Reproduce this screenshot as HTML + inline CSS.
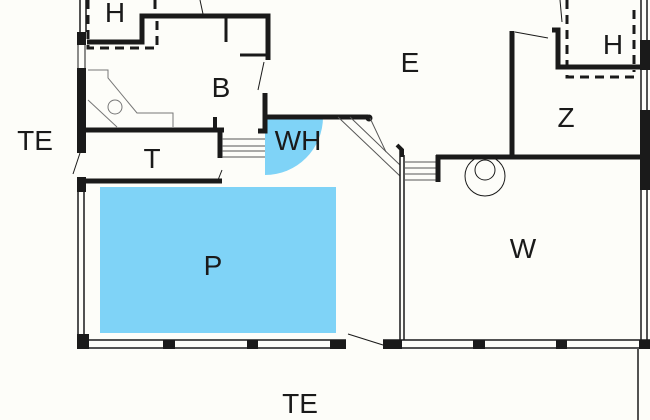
<!DOCTYPE html>
<html><head><meta charset="utf-8"><style>
html,body{margin:0;padding:0;background:#fdfdf9;}
svg{display:block;}
text{font-family:"Liberation Sans",sans-serif;font-size:28px;fill:#1a1a1a;text-anchor:middle;}
</style></head><body>
<svg width="650" height="420" viewBox="0 0 650 420" xmlns="http://www.w3.org/2000/svg">
<rect width="650" height="420" fill="#fdfdf9"/>
<!-- blue areas -->
<rect x="100" y="187" width="236" height="146" fill="#7fd3f7"/>
<path d="M265 117 L323 117 A58 58 0 0 1 265 175 Z" fill="#7fd3f7"/>
<g stroke="#1a1a1a" fill="none">
<!-- left outer wall -->
<line x1="80" y1="0" x2="80" y2="32" stroke-width="1.5"/>
<line x1="86" y1="0" x2="86" y2="32" stroke-width="1.5"/>
<rect x="77" y="32" width="9" height="13" fill="#1a1a1a" stroke="none"/>
<line x1="78" y1="45" x2="78" y2="68" stroke-width="1"/>
<line x1="85" y1="45" x2="85" y2="68" stroke-width="1"/>
<rect x="77" y="68" width="9" height="85" fill="#1a1a1a" stroke="none"/>
<line x1="80" y1="153" x2="73" y2="174" stroke-width="1"/>
<rect x="77" y="177" width="9" height="15" fill="#1a1a1a" stroke="none"/>
<line x1="78" y1="190" x2="78" y2="340" stroke-width="1.5"/>
<line x1="84" y1="190" x2="84" y2="335" stroke-width="1.5"/>
<!-- bottom wall -->
<g stroke-width="1.5">
<line x1="77" y1="340" x2="346" y2="340"/><line x1="77" y1="348" x2="346" y2="348"/>
<line x1="383" y1="340" x2="650" y2="340"/><line x1="383" y1="348" x2="650" y2="348"/>
</g>
<g fill="#1a1a1a" stroke="none">
<rect x="77" y="334" width="12" height="15"/>
<rect x="163" y="340" width="12" height="9"/>
<rect x="247" y="340" width="11" height="9"/>
<rect x="330" y="340" width="16" height="9"/>
<rect x="383" y="340" width="19" height="9"/>
<rect x="473" y="340" width="12" height="9"/>
<rect x="556" y="340" width="11" height="9"/>
<rect x="639" y="340" width="11" height="9"/>
</g>
<line x1="348" y1="334" x2="383" y2="345" stroke-width="1"/>
<line x1="638" y1="349" x2="638" y2="420" stroke-width="1.5"/>
<!-- upper left H room -->
<path d="M87 42 H142 V16 H268 V60" stroke-width="5"/>
<line x1="226" y1="16" x2="226" y2="42" stroke-width="3"/>
<line x1="240" y1="55" x2="266" y2="55" stroke-width="3"/>
<line x1="200" y1="0" x2="203" y2="14" stroke-width="1"/>
<path d="M88 0 V48 H157 V20" stroke-width="3" stroke-dasharray="9 6"/>
<line x1="155" y1="0" x2="155" y2="14" stroke-width="3" stroke-dasharray="9 6"/>
<line x1="264" y1="62" x2="258" y2="90" stroke-width="1"/>
<path d="M265 93 V131 H258" stroke-width="5"/>
<line x1="265" y1="117" x2="368" y2="117" stroke-width="5"/>
<circle cx="369" cy="118" r="3" fill="#1a1a1a"/>
<!-- T room -->
<line x1="80" y1="130" x2="224" y2="130" stroke-width="5"/>
<line x1="215" y1="117" x2="215" y2="130" stroke-width="4"/>
<line x1="220" y1="130" x2="220" y2="158" stroke-width="5"/>
<line x1="222" y1="170" x2="218" y2="180" stroke-width="1"/>
<line x1="80" y1="181" x2="222" y2="181" stroke-width="5"/>
<g stroke-width="1" stroke="#555">
<line x1="222" y1="139" x2="265" y2="139"/><line x1="222" y1="146" x2="265" y2="146"/>
<line x1="222" y1="151" x2="265" y2="151"/><line x1="222" y1="157" x2="265" y2="157"/>
</g>
<!-- kitchen -->
<g stroke="#777" stroke-width="1">
<path d="M88 70 H108 V78 L137 113 H173 V127"/>
<line x1="88" y1="100" x2="117" y2="127"/>
<circle cx="115" cy="107" r="7"/>
</g>
<!-- diagonal ramp -->
<g stroke="#555" stroke-width="1">
<line x1="338" y1="117" x2="400" y2="176"/>
<line x1="350" y1="117" x2="400" y2="165"/>
<line x1="370" y1="118" x2="386" y2="152"/>
</g>
<path d="M397 145 L402 150 V157" stroke-width="4"/>
<line x1="400" y1="150" x2="400" y2="340" stroke-width="1.5"/>
<line x1="404" y1="155" x2="404" y2="340" stroke-width="1.5"/>
<g stroke-width="1" stroke="#555">
<line x1="404" y1="162" x2="437" y2="162"/><line x1="404" y1="168" x2="437" y2="168"/>
<line x1="404" y1="174" x2="437" y2="174"/><line x1="404" y1="180" x2="437" y2="180"/>
</g>
<line x1="438" y1="155" x2="438" y2="182" stroke-width="5"/>
<line x1="436" y1="157" x2="642" y2="157" stroke-width="5"/>
<circle cx="485" cy="176" r="20" stroke-width="1"/>
<circle cx="485" cy="170" r="10" stroke-width="1"/>
<!-- Z room -->
<line x1="512" y1="31" x2="512" y2="157" stroke-width="5"/>
<line x1="515" y1="32" x2="548" y2="38" stroke-width="1"/>
<path d="M552 30 H558 V67 H642" stroke-width="5"/>
<line x1="560" y1="0" x2="562" y2="22" stroke-width="1"/>
<path d="M567 0 V77 H637" stroke-width="3" stroke-dasharray="9 6"/>
<line x1="634" y1="10" x2="634" y2="72" stroke-width="3" stroke-dasharray="9 6"/>
<!-- right outer wall -->
<line x1="641" y1="0" x2="641" y2="40" stroke-width="1.5"/>
<line x1="647" y1="0" x2="647" y2="40" stroke-width="1.5"/>
<rect x="640" y="40" width="10" height="30" fill="#1a1a1a" stroke="none"/>
<line x1="641" y1="70" x2="641" y2="110" stroke-width="1.5"/>
<line x1="647" y1="70" x2="647" y2="110" stroke-width="1.5"/>
<rect x="640" y="110" width="10" height="80" fill="#1a1a1a" stroke="none"/>
<line x1="641" y1="190" x2="641" y2="340" stroke-width="1.5"/>
<line x1="647" y1="190" x2="647" y2="340" stroke-width="1.5"/>
</g>
<text x="115" y="22">H</text>
<text x="221" y="97">B</text>
<text x="410" y="72">E</text>
<text x="35" y="150">TE</text>
<text x="152" y="168">T</text>
<text x="298" y="150">WH</text>
<text x="213" y="275">P</text>
<text x="523" y="258">W</text>
<text x="566" y="127">Z</text>
<text x="613" y="54">H</text>
<text x="300" y="413">TE</text>
</svg>
</body></html>
